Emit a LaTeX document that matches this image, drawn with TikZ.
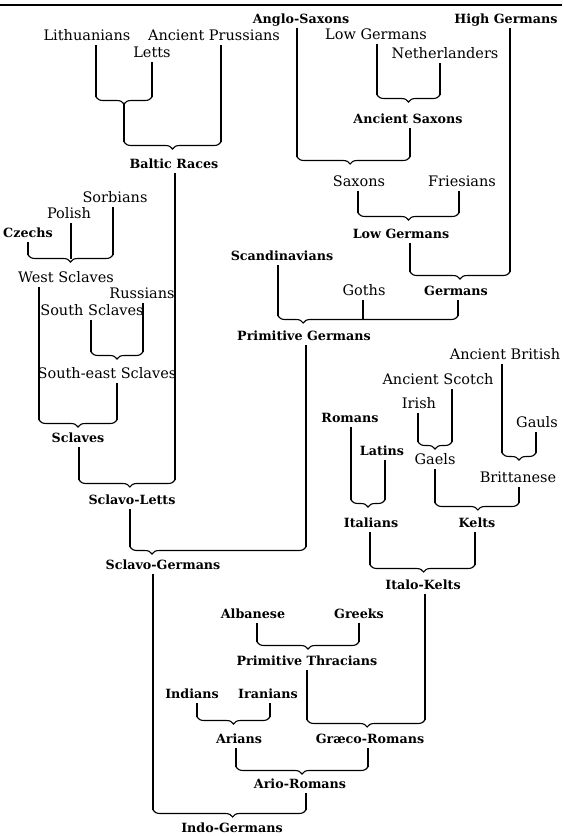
\documentclass[tikz,border=0pt]{standalone}
\usepackage{fontspec}
\setmainfont{DejaVu Serif}
\usetikzlibrary{decorations.pathreplacing}
\tikzset{
  rg/.style={font=\fontsize{14.5}{16}\selectfont, anchor=base, text depth=0pt, inner xsep=1pt, inner ysep=5pt},
  bl/.style={font=\fontsize{12.7}{15}\selectfont\bfseries, anchor=base, text depth=0pt, inner xsep=1pt, inner ysep=5pt},
  ln/.style={line width=1.1pt},
  brc/.style={line width=1.1pt, decorate, decoration={brace, mirror, amplitude=7pt, aspect=#1}},
  brc/.default=0.5
}
\begin{document}
\begin{tikzpicture}[x=1pt,y=-1pt]
\useasboundingbox (0,0) rectangle (564,836);
\draw[line width=2pt] (0,5) -- (562,5);
% labels
\node[rg] (lith) at (87,40) {Lithuanians};
\node[rg] (prus) at (214,40) {Ancient Prussians};
\node[rg] (letts) at (152,57) {Letts};
\node[bl] (baltic) at (174,168) {Baltic Races};
\node[bl] (anglo) at (301,23) {Anglo-Saxons};
\node[bl] (highg) at (506,23) {High Germans};
\node[rg] (lowga) at (376,39) {Low Germans};
\node[rg] (neth) at (445,58) {Netherlanders};
\node[bl] (ansax) at (408,123) {Ancient Saxons};
\node[rg] (saxons) at (359,186) {Saxons};
\node[rg] (fries) at (462,186) {Friesians};
\node[bl] (lowgb) at (401,238) {Low Germans};
\node[bl] (germans) at (456,295) {Germans};
\node[rg] (goths) at (364,295) {Goths};
\node[bl] (scand) at (282,260) {Scandinavians};
\node[bl] (primg) at (304,340) {Primitive Germans};
\node[rg] (sorb) at (115,202) {Sorbians};
\node[rg] (polish) at (69,218) {Polish};
\node[bl] (czechs) at (28,237) {Czechs};
\node[rg] (wests) at (66,282) {West Sclaves};
\node[rg] (russ) at (142,298) {Russians};
\node[rg] (souths) at (92,315) {South Sclaves};
\node[rg] (sesl) at (107,378) {South-east Sclaves};
\node[bl] (sclaves) at (78,442) {Sclaves};
\node[bl] (sclets) at (132,504) {Sclavo-Letts};
\node[bl] (sclg) at (163,569) {Sclavo-Germans};
\node[rg] (anbrit) at (505,359) {Ancient British};
\node[rg] (anscot) at (438,384) {Ancient Scotch};
\node[rg] (irish) at (419,408) {Irish};
\node[bl] (romans) at (350,422) {Romans};
\node[rg] (gauls) at (537,427) {Gauls};
\node[rg] (britt) at (518,482) {Brittanese};
\node[rg] (gaels) at (435,464) {Gaels};
\node[bl] (kelts) at (477,527) {Kelts};
\node[bl] (latins) at (382,455) {Latins};
\node[bl] (italians) at (371,527) {Italians};
\node[bl] (italok) at (423,589) {Italo-Kelts};
\node[bl] (graeco) at (370,743) {Græco-Romans};
\node[bl] (alban) at (253,618) {Albanese};
\node[bl] (greeks) at (359,618) {Greeks};
\node[bl] (primth) at (307,665) {Primitive Thracians};
\node[bl] (indians) at (192,698) {Indians};
\node[bl] (iranians) at (268,698) {Iranians};
\node[bl] (arians) at (239,743) {Arians};
\node[bl] (arrom) at (300,788) {Ario-Romans};
\node[bl] (indog) at (232,832) {Indo-Germans};
% brace end points
\coordinate (b1l) at (96,97);   \coordinate (b1r) at (152,97);  \coordinate (b1t) at (124,104);
\coordinate (b2l) at (124,142); \coordinate (b2r) at (221,142);
\coordinate (b3l) at (377,95);  \coordinate (b3r) at (440,95);
\coordinate (b4l) at (297,157); \coordinate (b4r) at (410,157);
\coordinate (b5l) at (358,213); \coordinate (b5r) at (459,213);
\coordinate (b6l) at (410,272); \coordinate (b6r) at (510,272);
\coordinate (b7l) at (278,316); \coordinate (b7r) at (458,316); \coordinate (b7m) at (363,319.5);
\coordinate (b8l) at (130,547); \coordinate (b8r) at (306,547);
\coordinate (b9l) at (28,255);  \coordinate (b9r) at (113,255); \coordinate (b9m) at (71,258.5);
\coordinate (b10l) at (91,352); \coordinate (b10r) at (143,352);
\coordinate (b11l) at (39,420); \coordinate (b11r) at (117,420);
\coordinate (b12l) at (79,480); \coordinate (b12r) at (175,480);
\coordinate (b13l) at (418,442); \coordinate (b13r) at (452,442);
\coordinate (b14l) at (502,453); \coordinate (b14r) at (536,453);
\coordinate (b15l) at (435,503); \coordinate (b15r) at (519,503);
\coordinate (b16l) at (351,500); \coordinate (b16r) at (385,500);
\coordinate (b17l) at (370,565); \coordinate (b17r) at (475,565);
\coordinate (b18l) at (257,642); \coordinate (b18r) at (359,642);
\coordinate (b19l) at (307,720); \coordinate (b19r) at (425,720);
\coordinate (b20l) at (197,717); \coordinate (b20r) at (270,717);
\coordinate (b21l) at (236,767); \coordinate (b21r) at (368,767);
\coordinate (b22l) at (153,810); \coordinate (b22r) at (306,810);
% Baltic
\draw[ln] (lith.south -| b1l) -- (b1l);
\draw[ln] (letts.south -| b1r) -- (b1r);
\draw[brc] (b1l) -- (b1r);
\draw[ln] (b1t) -- (b2l);
\draw[ln] (prus.south -| b2r) -- (b2r);
\draw[brc] (b2l) -- (b2r);
% Germans
\draw[ln] (lowga.south -| b3l) -- (b3l);
\draw[ln] (neth.south -| b3r) -- (b3r);
\draw[brc] (b3l) -- (b3r);
\draw[ln] (anglo.south -| b4l) -- (b4l);
\draw[ln] (ansax.south -| b4r) -- (b4r);
\draw[brc=0.47] (b4l) -- (b4r);
\draw[ln] (saxons.south -| b5l) -- (b5l);
\draw[ln] (fries.south -| b5r) -- (b5r);
\draw[brc] (b5l) -- (b5r);
\draw[ln] (lowgb.south -| b6l) -- (b6l);
\draw[ln] (highg.south -| b6r) -- (b6r);
\draw[brc] (b6l) -- (b6r);
\draw[ln] (scand.south -| b7l) -- (b7l);
\draw[ln] (goths.south -| b7m) -- (b7m);
\draw[ln] (germans.south -| b7r) -- (b7r);
\draw[brc=0.14] (b7l) -- (b7r);
% Sclaves
\draw[ln] (czechs.south -| b9l) -- (b9l);
\draw[ln] (polish.south -| b9m) -- (b9m);
\draw[ln] (sorb.south -| b9r) -- (b9r);
\draw[brc] (b9l) -- (b9r);
\draw[ln] (souths.south -| b10l) -- (b10l);
\draw[ln] (russ.south -| b10r) -- (b10r);
\draw[brc] (b10l) -- (b10r);
\draw[ln] (wests.south -| b11l) -- (b11l);
\draw[ln] (sesl.south -| b11r) -- (b11r);
\draw[brc] (b11l) -- (b11r);
\draw[ln] (sclaves.south -| b12l) -- (b12l);
\draw[ln] (baltic.south -| b12r) -- (b12r);
\draw[brc=0.53] (b12l) -- (b12r);
\draw[ln] (sclets.south -| b8l) -- (b8l);
\draw[ln] (primg.south -| b8r) -- (b8r);
\draw[brc=0.125] (b8l) -- (b8r);
% Kelts
\draw[ln] (irish.south -| b13l) -- (b13l);
\draw[ln] (anscot.south -| b13r) -- (b13r);
\draw[brc] (b13l) -- (b13r);
\draw[ln] (anbrit.south -| b14l) -- (b14l);
\draw[ln] (gauls.south -| b14r) -- (b14r);
\draw[brc] (b14l) -- (b14r);
\draw[ln] (gaels.south -| b15l) -- (b15l);
\draw[ln] (britt.south -| b15r) -- (b15r);
\draw[brc=0.51] (b15l) -- (b15r);
\draw[ln] (romans.south -| b16l) -- (b16l);
\draw[ln] (latins.south -| b16r) -- (b16r);
\draw[brc] (b16l) -- (b16r);
\draw[ln] (italians.south -| b17l) -- (b17l);
\draw[ln] (kelts.south -| b17r) -- (b17r);
\draw[brc=0.51] (b17l) -- (b17r);
% Thracians and below
\draw[ln] (alban.south -| b18l) -- (b18l);
\draw[ln] (greeks.south -| b18r) -- (b18r);
\draw[brc] (b18l) -- (b18r);
\draw[ln] (primth.south -| b19l) -- (b19l);
\draw[ln] (italok.south -| b19r) -- (b19r);
\draw[brc=0.51] (b19l) -- (b19r);
\draw[ln] (indians.south -| b20l) -- (b20l);
\draw[ln] (iranians.south -| b20r) -- (b20r);
\draw[brc] (b20l) -- (b20r);
\draw[ln] (arians.south -| b21l) -- (b21l);
\draw[ln] (graeco.south -| b21r) -- (b21r);
\draw[brc=0.5] (b21l) -- (b21r);
\draw[ln] (sclg.south -| b22l) -- (b22l);
\draw[ln] (arrom.south -| b22r) -- (b22r);
\draw[brc=0.52] (b22l) -- (b22r);
\end{tikzpicture}
\end{document}
